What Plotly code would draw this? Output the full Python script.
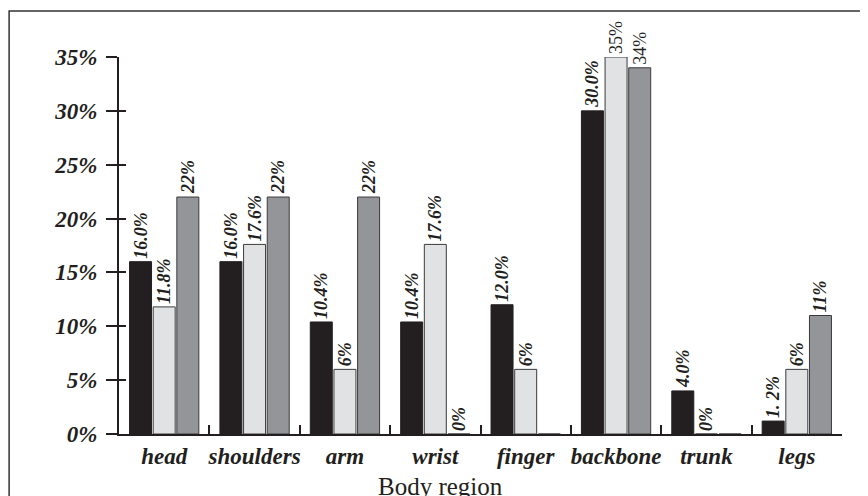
import plotly.graph_objects as go

categories = ["head", "shoulders", "arm", "wrist", "finger", "backbone", "trunk", "legs"]
series_a = [16.0, 16.0, 10.4, 10.4, 12.0, 30.0, 4.0, 1.2]
series_b = [11.8, 17.6, 6.0, 17.6, 6.0, 35.0, 0.0, 6.0]
series_c = [22.0, 22.0, 22.0, 0.0, 0.0, 34.0, 0.0, 11.0]
labels_a = ["16.0%", "16.0%", "10.4%", "10.4%", "12.0%", "30.0%", "4.0%", "1. 2%"]
labels_b = ["11.8%", "17.6%", "6%", "17.6%", "6%", "35%", "0%", "6%"]
labels_c = ["22%", "22%", "22%", "0%", "", "34%", "", "11%"]
y_ticks = [0, 5, 10, 15, 20, 25, 30, 35]
y_tick_labels = [f"{v}%" for v in y_ticks]

FONT = "Liberation Serif, Times New Roman, serif"
INK = "#231f20"
plain_b = {5}
plain_c = {5}


def styled(labels, plain):
    return [t if (i in plain or not t) else f"<b><i>{t}</i></b>" for i, t in enumerate(labels)]


fig = go.Figure()
for vals, labs, plain, color, lc in [
    (series_a, labels_a, set(), INK, INK),
    (series_b, labels_b, plain_b, "#e1e2e4", "#3a3a3a"),
    (series_c, labels_c, plain_c, "#939598", "#3a3a3a"),
]:
    fig.add_trace(go.Bar(
        x=categories, y=vals, text=styled(labs, plain),
        textposition="outside", textangle=-90, constraintext="none",
        cliponaxis=False, textfont=dict(family=FONT, size=18, color=INK),
        marker=dict(color=color, line=dict(color=lc, width=1)),
        showlegend=False, hoverinfo="skip",
    ))

# invisible trace so the overlay axis (inner tick marks) is drawn
fig.add_trace(go.Scatter(x=[categories[0]], y=[None], yaxis="y2",
                         showlegend=False, hoverinfo="skip"))

fig.update_layout(
    width=868, height=496,
    margin=dict(l=111, r=34, t=49, b=70, autoexpand=False),
    paper_bgcolor="white", plot_bgcolor="white",
    barmode="group", bargap=0.215, bargroupgap=0.07,
    font=dict(family=FONT, color=INK),
    xaxis=dict(
        type="category", tickson="boundaries", ticks="inside", ticklen=9,
        tickwidth=2, tickcolor=INK, showline=True, linewidth=2, linecolor=INK,
        showgrid=False, zeroline=False, tickangle=0, automargin=False,
        ticklabelstandoff=0,
        tickfont=dict(family=FONT, size=23, color=INK, weight="bold", style="italic"),
    ),
    yaxis=dict(
        range=[0, 35], tickvals=y_ticks, ticktext=y_tick_labels,
        ticks="outside", ticklen=11, tickwidth=2, tickcolor=INK, automargin=False,
        ticklabelstandoff=4,
        showline=True, linewidth=2, linecolor=INK, showgrid=False, zeroline=False,
        tickfont=dict(family=FONT, size=23, color=INK, weight="bold", style="italic"),
    ),
    yaxis2=dict(
        range=[0, 35], tickvals=y_ticks, overlaying="y", side="left",
        ticks="inside", ticklen=7, tickwidth=2, tickcolor=INK, automargin=False,
        showticklabels=False, showline=False, showgrid=False, zeroline=False,
    ),
    shapes=[dict(type="rect", xref="paper", yref="paper",
                 x0=-0.152, x1=1.2, y0=-0.3, y1=1.122,
                 line=dict(color="#333333", width=1.5), layer="below")],
    annotations=[dict(text="Body region", xref="paper", yref="paper",
                      x=0.444, y=-0.098, xanchor="center", yanchor="top",
                      showarrow=False, font=dict(family=FONT, size=25, color=INK))],
)

fig.write_html("out.html")
